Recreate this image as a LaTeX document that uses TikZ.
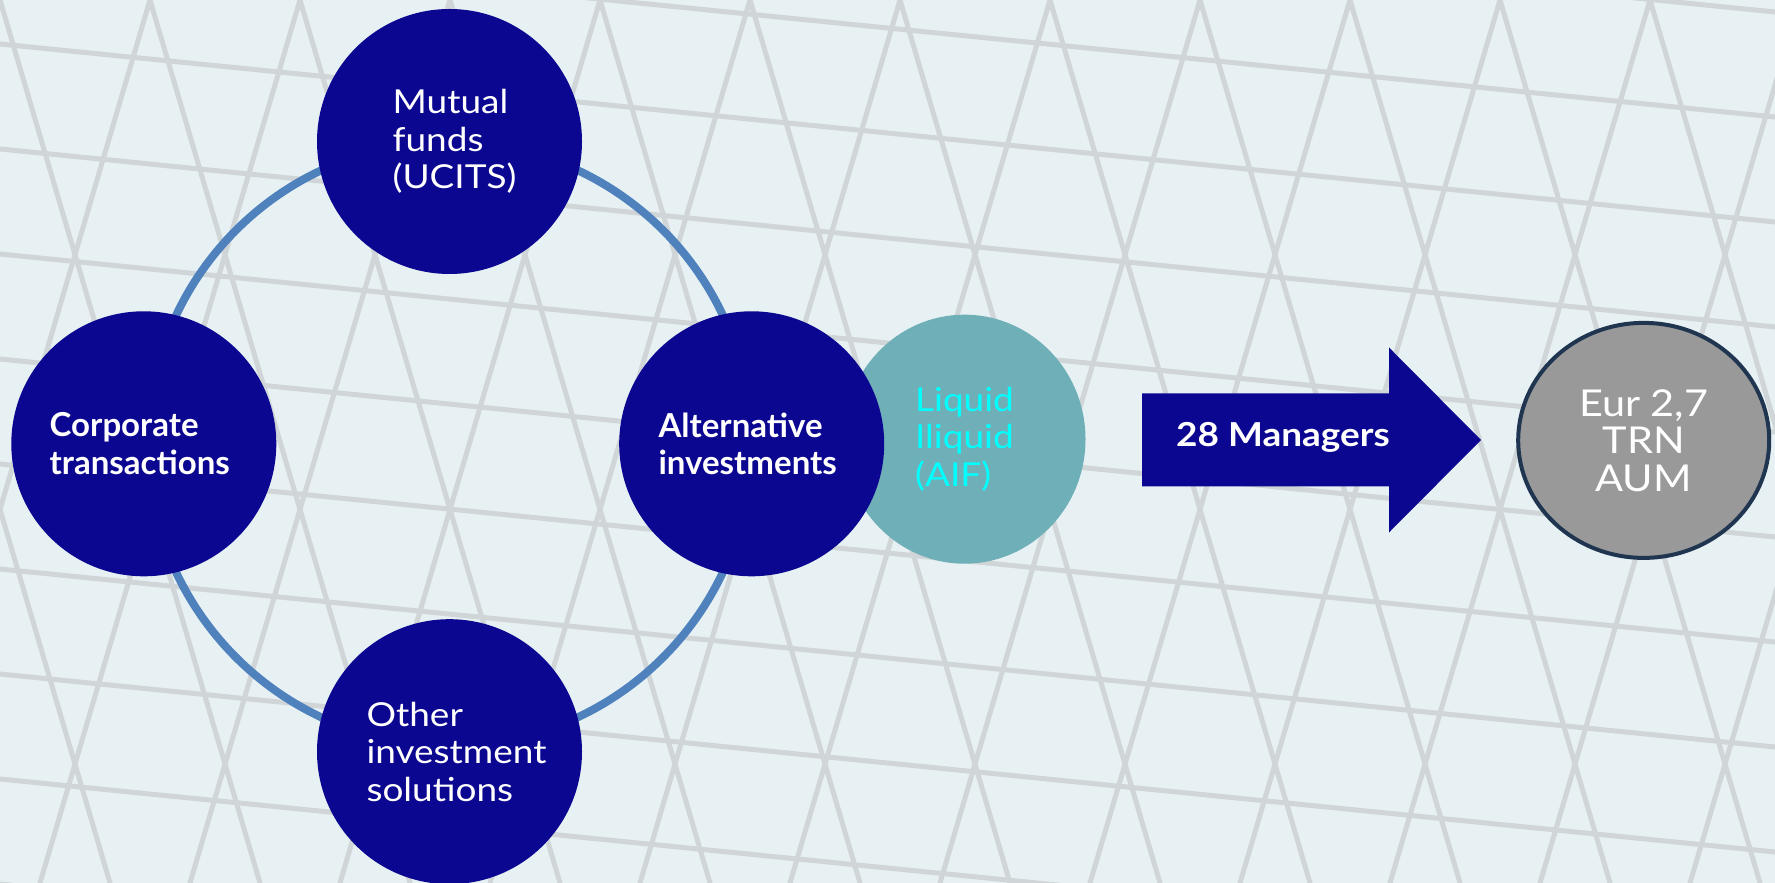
\documentclass[tikz,border=0pt]{standalone}
\usepackage{fontspec}
\setmainfont{Lato}[FakeStretch=1.12]
\newfontfamily\heavyfont{Lato}
\usetikzlibrary{shapes.geometric}
\definecolor{navy}{HTML}{0B0790}
\definecolor{ringblue}{HTML}{4F81BD}
\definecolor{aifteal}{HTML}{6FB0B8}
\definecolor{aqua}{HTML}{00FFFF}
\definecolor{aumgray}{HTML}{999999}
\definecolor{aumedge}{HTML}{1F3550}
\definecolor{sky}{HTML}{E7F1F4}
\definecolor{strut}{HTML}{D0D5D8}

\begin{document}
\begin{tikzpicture}[x=1pt,y=1pt,line cap=round,line join=round,
  fund/.style={circle,fill=navy,minimum size=265pt,inner sep=0pt},
  fundtext/.style={text=white,align=left,inner sep=0pt,font=\fontsize{33}{37.5}\selectfont},
  fundbold/.style={fundtext,font=\heavyfont\bfseries\fontsize{33}{37.5}\selectfont},
  lattice/.style={line width=5pt,color=strut}]
\useasboundingbox (0,0) rectangle (1775,883);
\begin{scope}
\clip (0,0) rectangle (1775,883);
\fill[sky] (0,0) rectangle (1775,883);
\foreach \k in {-3,...,14} {
  \draw[lattice] (\k*150,883) -- (\k*150+260,0);
  \draw[lattice] (\k*150,883) -- (\k*150-260,0);
}
\foreach \k in {-1,...,10}
  \draw[lattice] (-10,\k*105) -- (1785,\k*105-180);
\end{scope}
\coordinate (hub) at (449.5,439.2);
\draw[ringblue,line width=8pt] (hub) circle (302);
\node[ellipse,fill=aifteal,minimum width=242pt,minimum height=249pt,inner sep=0pt,text=aqua,align=left,font=\fontsize{33}{37.5}\selectfont] (liquid) at (964.5,443.8) {Liquid\\Iliquid\\(AIF)};
\node[fund] (mutual) at (449.5,741.5) {};
\node[fund] (corporate) at (143.8,439.2) {};
\node[fund] (alternative) at (751.7,439.2) {};
\node[fund] (other) at (449.5,131.3) {};
\node[fundtext] (mutualtext) at ([xshift=5pt]mutual.center) {Mutual\\funds\\(UCITS)};
\node[fundbold] (corporatetext) at ([xshift=-4pt]corporate.center) {Corporate\\transactions};
\node[fundbold] (alternativetext) at ([xshift=-4pt]alternative.center) {Alternative\\investments};
\node[fundtext] (othertext) at ([xshift=7pt]other.center) {Other\\investment\\solutions};
\fill[navy] (1142,396.5) -- (1389,396.5) -- (1389,350.5) -- (1481,443) -- (1389,535.5) -- (1389,489.5) -- (1142,489.5) -- cycle;
\node[text=white,font=\bfseries\fontsize{33}{37.5}\selectfont] (managers) at (1283,446) {28 Managers};
\node[ellipse,draw=aumedge,line width=4pt,fill=aumgray,minimum width=251pt,minimum height=235pt,inner sep=0pt,text=white,align=center,font=\fontsize{37}{37.5}\selectfont] (aum) at (1643.7,442.6) {Eur 2,7\\TRN\\AUM};
\end{tikzpicture}
\end{document}
